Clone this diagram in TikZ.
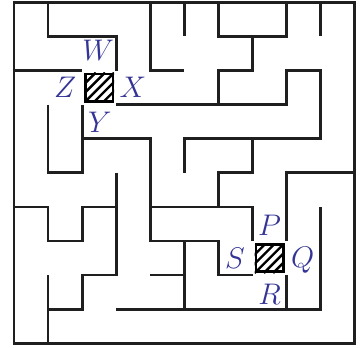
\documentclass[tikz,border=0pt]{standalone}
\usetikzlibrary{positioning}
\begin{document}
\begin{tikzpicture}[
    wall/.style={draw=black!88, line width=2.3pt},
    gate/.style={draw=black, line width=2.2pt, minimum size=0.8cm, inner sep=0pt},
    hatch/.style={draw=black, line width=2pt},
    letter/.style={text=labelblue, font=\Huge, inner sep=0pt}
]
\definecolor{labelblue}{RGB}{52,52,150}
\useasboundingbox (-0.41,-0.11) rectangle (10.18,10.07);

% outer frame
\draw[wall] (0,0) rectangle (10,10);

% walls, top rows
\draw[wall] (1,10) -- (1,9) -- (3,9) -- (3,8);
\draw[wall] (0,8) -- (2,8);
\draw[wall] (4,10) -- (4,8) -- (5,8);
\draw[wall] (5,10) -- (5,9);
\draw[wall] (6,10) -- (6,9) -- (8,9) -- (8,10);
\draw[wall] (9,10) -- (9,9);
\draw[wall] (7,9) -- (7,8) -- (6,8) -- (6,7);
\draw[wall] (3,7) -- (8,7) -- (8,8) -- (9,8) -- (9,6) -- (5,6) -- (5,5);

% walls, middle rows
\draw[wall] (1,7) -- (1,5) -- (2,5) -- (2,7);
\draw[wall] (2,6) -- (4,6) -- (4,3) -- (6,3) -- (6,2) -- (7,2);
\draw[wall] (7,6) -- (7,5) -- (6,5) -- (6,4);
\draw[wall] (4,4) -- (7,4) -- (7,3);
\draw[wall] (8,3) -- (8,5) -- (10,5);
\draw[wall] (0,4) -- (1,4) -- (1,3) -- (2,3) -- (2,4) -- (3,4);

% walls, bottom rows
\draw[wall] (3,5) -- (3,2) -- (2,2) -- (2,1) -- (1,1);
\draw[wall] (1,2) -- (1,0);
\draw[wall] (4,2) -- (5,2);
\draw[wall] (5,3) -- (5,1);
\draw[wall] (3,1) -- (9,1) -- (9,4);
\draw[wall] (8,2) -- (8,1);

% the two hatched cells
\node[gate] (boxL) at (2.5,7.5) {};
\node[gate] (boxR) at (7.5,2.5) {};
\foreach \b in {boxL,boxR} {
  \begin{scope}
    \clip (\b.south west) rectangle (\b.north east);
    \foreach \c in {-0.54,-0.27,0,0.27,0.54}
      \draw[hatch] ([xshift=\c cm]\b.south west) -- ([xshift=\c cm]\b.north east);
  \end{scope}
  \node[gate] at (\b) {};
}

% labels
\node[letter] (labW) at (2.47,8.58) {$W$};
\node[letter] (labX) at (3.49,7.5) {$X$};
\node[letter] (labY) at (2.52,6.47) {$Y$};
\node[letter] (labZ) at (1.5,7.5) {$Z$};
\node[letter] (labP) at (7.5,3.45) {$P$};
\node[letter] (labQ) at (8.47,2.45) {$Q$};
\node[letter] (labR) at (7.5,1.45) {$R$};
\node[letter] (labS) at (6.48,2.5) {$S$};
\end{tikzpicture}
\end{document}
